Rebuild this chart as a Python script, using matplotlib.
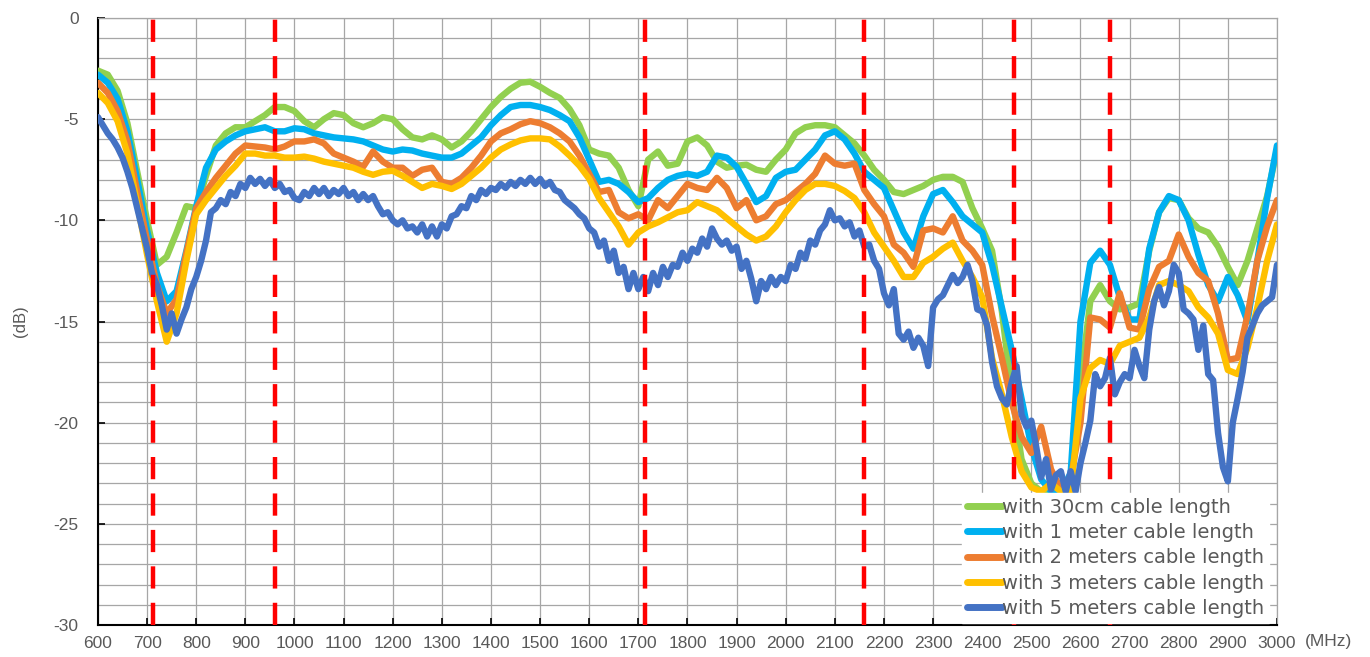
import matplotlib
matplotlib.use("Agg")
import matplotlib.pyplot as plt
import numpy as np
from matplotlib.ticker import MultipleLocator

# frequency grids (MHz)
freq_20 = list(range(600, 3001, 20))
freq_10 = list(range(600, 3001, 10))

# band edges marked with red dashed lines (MHz)
band_edges = [712, 960, 1714, 2160, 2465, 2660]

labels = [
    "with 30cm cable length",
    "with 1 meter cable length",
    "with 2 meters cable length",
    "with 3 meters cable length",
    "with 5 meters cable length",
]
colors = ["#92D050", "#00B0F0", "#ED7D31", "#FFC000", "#4472C4"]

cable_30cm = [
    -2.6, -2.8, -3.6, -5.2, -7.6, -10.0, -12.2, -11.8, -10.6, -9.3,
    -9.4, -7.8, -6.3, -5.7, -5.4, -5.4, -5.1, -4.8, -4.4, -4.4,
    -4.6, -5.1, -5.4, -5.0, -4.7, -4.8, -5.2, -5.4, -5.2, -4.9,
    -5.0, -5.5, -5.9, -6.0, -5.8, -6.0, -6.4, -6.1, -5.6, -5.0,
    -4.4, -3.9, -3.5, -3.2, -3.15, -3.4, -3.7, -3.95, -4.5, -5.3,
    -6.5, -6.7, -6.8, -7.4, -8.5, -9.3, -7.0, -6.6, -7.3, -7.2,
    -6.1, -5.9, -6.3, -7.1, -7.4, -7.3, -7.25, -7.5, -7.6, -7.0,
    -6.5, -5.7, -5.4, -5.3, -5.3, -5.4, -5.8, -6.2, -6.8, -7.5,
    -8.0, -8.6, -8.7, -8.5, -8.3, -8.0, -7.85, -7.85, -8.1, -9.4,
    -10.4, -11.5, -14.5, -18.5, -21.8, -23.0, -23.4, -23.4, -23.3, -23.4,
    -18.0, -14.0, -13.2, -14.0, -14.4, -14.3, -14.1, -11.5, -9.6, -8.9,
    -9.0, -9.9, -10.4, -10.6, -11.3, -12.3, -13.2, -12.0, -10.4, -8.8,
    -6.5,
]

cable_1m = [
    -2.8, -3.2, -4.0, -5.6, -8.0, -10.5, -12.6, -14.0, -13.5, -11.5,
    -9.3, -7.4, -6.5, -6.1, -5.8, -5.6, -5.5, -5.4, -5.6, -5.6,
    -5.45, -5.5, -5.7, -5.8, -5.9, -5.95, -6.0, -6.1, -6.3, -6.5,
    -6.6, -6.5, -6.55, -6.7, -6.8, -6.9, -6.9, -6.7, -6.3, -5.9,
    -5.3, -4.8, -4.4, -4.3, -4.3, -4.4, -4.55, -4.8, -5.1, -5.9,
    -7.0, -8.1, -8.0, -8.2, -8.6, -9.1, -8.9, -8.4, -8.0, -7.8,
    -7.7, -7.8, -7.6, -6.8, -6.9, -7.35, -8.2, -9.1, -8.8, -7.9,
    -7.6, -7.5, -7.0, -6.5, -5.8, -5.6, -6.0, -6.7, -7.6, -8.0,
    -8.4, -9.5, -10.6, -11.4, -9.8, -8.7, -8.5, -9.1, -9.8, -10.2,
    -10.6, -12.2, -14.3, -16.4, -18.8, -21.2, -22.8, -23.4, -23.4, -22.5,
    -15.0, -12.1, -11.5, -12.2, -13.8, -14.9, -14.9, -11.4, -9.6, -8.8,
    -9.0, -10.0, -11.7, -13.2, -14.0, -12.8, -13.7, -15.0, -12.0, -8.9,
    -6.3,
]

cable_2m = [
    -3.2, -3.7, -4.6, -6.1, -8.6, -11.0, -13.2, -14.6, -13.9, -11.6,
    -9.4, -8.6, -7.9, -7.3, -6.7, -6.3, -6.35, -6.4, -6.5, -6.35,
    -6.1, -6.1, -6.0, -6.2, -6.7, -6.9, -7.1, -7.35, -6.6, -7.1,
    -7.4, -7.4, -7.8, -7.5, -7.4, -8.1, -8.2, -7.9, -7.4, -6.8,
    -6.1, -5.7, -5.5, -5.25, -5.1, -5.2, -5.4, -5.7, -6.1, -6.8,
    -7.7, -8.6, -8.5, -9.6, -9.9, -9.7, -10.0, -9.0, -9.4, -8.8,
    -8.2, -8.4, -8.5, -7.9, -8.4, -9.4, -9.0, -10.0, -9.8, -9.2,
    -9.0, -8.6, -8.2, -7.7, -6.8, -7.2, -7.3, -7.2, -8.5, -9.2,
    -9.8, -11.2, -11.6, -12.3, -10.5, -10.4, -10.6, -9.8, -11.0, -11.5,
    -12.2, -14.7, -16.8, -19.0, -20.7, -21.5, -20.2, -22.3, -23.3, -22.8,
    -20.0, -14.8, -14.9, -15.3, -13.6, -15.3, -15.4, -13.4, -12.3, -12.0,
    -10.7, -11.8, -12.6, -13.0, -14.6, -16.9, -16.8, -14.7, -12.0, -10.3,
    -9.0,
]

cable_3m = [
    -3.7, -4.2, -5.1, -6.7, -9.2, -11.7, -14.0, -16.0, -14.6, -12.0,
    -9.7, -9.0, -8.4, -7.8, -7.3, -6.7, -6.7, -6.8, -6.8, -6.9,
    -6.9, -6.85, -6.95, -7.1, -7.2, -7.3, -7.4, -7.6, -7.75, -7.6,
    -7.55, -7.8, -8.1, -8.4, -8.2, -8.3, -8.45, -8.2, -7.8, -7.4,
    -6.9, -6.5, -6.25, -6.05, -5.95, -5.95, -6.0, -6.35, -6.8, -7.3,
    -7.95, -8.9, -9.6, -10.3, -11.2, -10.6, -10.3, -10.1, -9.85, -9.6,
    -9.5, -9.1, -9.3, -9.5, -9.9, -10.3, -10.7, -11.0, -10.8, -10.3,
    -9.6, -9.0, -8.5, -8.2, -8.2, -8.3, -8.55, -8.9, -9.6, -10.6,
    -11.3, -12.0, -12.8, -12.8, -12.1, -11.8, -11.4, -11.1, -12.0, -12.8,
    -13.8, -16.8, -18.6, -20.7, -22.4, -23.2, -23.4, -23.0, -23.4, -23.4,
    -18.8, -17.3, -16.9, -17.1, -16.2, -16.0, -15.8, -14.8, -13.2, -13.0,
    -13.2, -13.5, -14.3, -14.8, -15.6, -17.4, -17.6, -16.3, -14.3, -12.0,
    -10.2,
]

cable_5m = [
    -4.9, -5.3, -5.7, -6.0, -6.4, -6.9, -7.6, -8.4, -9.4, -10.4,
    -11.4, -12.6, -13.2, -14.2, -15.4, -14.6, -15.6, -14.9, -14.3, -13.4,
    -12.8, -12.0, -11.0, -9.6, -9.4, -9.0, -9.2, -8.6, -8.8, -8.2,
    -8.4, -7.9, -8.2, -7.95, -8.3, -8.0, -8.4, -8.2, -8.6, -8.5,
    -8.9, -9.0, -8.6, -8.8, -8.4, -8.7, -8.4, -8.8, -8.5, -8.7,
    -8.4, -8.8, -8.6, -9.0, -8.7, -9.0, -8.8, -9.3, -9.7, -9.6,
    -10.0, -10.2, -10.0, -10.4, -10.3, -10.6, -10.2, -10.8, -10.3, -10.8,
    -10.2, -10.4, -9.8, -9.7, -9.3, -9.4, -8.8, -9.0, -8.5, -8.7,
    -8.4, -8.5, -8.2, -8.4, -8.1, -8.3, -8.0, -8.2, -7.9, -8.2,
    -7.95, -8.3, -8.1, -8.5, -8.6, -9.0, -9.2, -9.4, -9.7, -9.9,
    -10.4, -10.6, -11.3, -11.0, -12.0, -11.5, -12.6, -12.3, -13.4, -12.6,
    -13.4, -12.8, -13.5, -12.6, -13.2, -12.3, -12.8, -12.2, -12.3, -11.6,
    -12.0, -11.4, -11.6, -10.9, -11.3, -10.4, -10.9, -11.2, -11.0, -11.5,
    -11.3, -12.4, -12.0, -12.9, -14.0, -13.0, -13.4, -12.8, -13.2, -12.8,
    -13.0, -12.2, -12.4, -11.6, -11.9, -11.0, -11.2, -10.5, -10.2, -9.5,
    -10.0, -9.9, -10.3, -10.1, -10.8, -10.5, -11.3, -11.2, -12.0, -12.4,
    -13.6, -14.2, -13.4, -15.6, -15.9, -15.5, -16.3, -15.8, -16.2, -17.2,
    -14.3, -13.9, -13.7, -13.2, -12.7, -13.1, -12.8, -12.2, -13.0, -14.4,
    -14.5, -15.2, -17.0, -18.2, -18.8, -19.1, -18.0, -17.2, -19.6, -20.2,
    -19.9, -21.2, -22.7, -21.8, -23.3, -22.6, -22.4, -23.4, -22.4, -23.4,
    -22.0, -21.0, -19.9, -17.6, -18.2, -17.8, -16.8, -18.6, -18.0, -17.6,
    -17.8, -16.4, -17.2, -17.8, -15.4, -14.0, -13.3, -14.2, -13.5, -12.2,
    -12.6, -14.4, -14.6, -14.9, -16.4, -15.2, -17.6, -17.9, -20.5, -22.2,
    -22.9, -20.0, -18.8, -17.5, -15.8, -15.2, -14.6, -14.2, -14.0, -13.8,
    -12.2,
]

series = [
    (freq_20, cable_30cm),
    (freq_20, cable_1m),
    (freq_20, cable_2m),
    (freq_20, cable_3m),
    (freq_10, cable_5m),
]

text_color = "#595959"
grid_color = "#A6A6A6"

fig = plt.figure(figsize=(13.7, 6.57), dpi=100)
ax = fig.add_axes([0.0715, 0.0487, 0.8606, 0.9239])

for (x, y), label, color in zip(series, labels, colors):
    ax.plot(x, y, color=color, lw=4.6, label=label, solid_capstyle="round",
            solid_joinstyle="round", zorder=3)

for edge in band_edges:
    ax.axvline(edge, color="#FF0000", lw=3.2, ls=(0, (5, 3.2)), zorder=4)

ax.set_xlim(600, 3000)
ax.set_ylim(-30, 0)
ax.xaxis.set_major_locator(MultipleLocator(100))
ax.yaxis.set_minor_locator(MultipleLocator(1))
ax.grid(True, which="major", color=grid_color, lw=0.9, zorder=0)
ax.grid(True, which="minor", axis="y", color=grid_color, lw=0.9, zorder=0)
ax.set_axisbelow(True)

ax.tick_params(axis="both", which="major", direction="in", length=5, width=1.2,
               colors="black", labelcolor=text_color, labelsize=12.5)
ax.tick_params(axis="y", which="minor", length=0)
ax.tick_params(axis="x", pad=8)
ax.tick_params(axis="y", pad=14)
y_ticks = list(range(-30, 1, 5))
ax.set_yticks(y_ticks)
ax.set_yticklabels([str(v) for v in y_ticks])
for lbl in ax.get_xticklabels() + ax.get_yticklabels():
    lbl.set_fontfamily("Liberation Sans")

for side in ["left", "bottom"]:
    ax.spines[side].set_color("black")
    ax.spines[side].set_linewidth(1.5)
for side in ["top", "right"]:
    ax.spines[side].set_color(grid_color)
    ax.spines[side].set_linewidth(0.9)

ax.set_ylabel("(dB)", color=text_color, fontsize=12, family="Liberation Sans",
              labelpad=18)
ax.text(1.024, -0.014, "(MHz)", transform=ax.transAxes, ha="left", va="top",
        color=text_color, fontsize=12.5, family="Liberation Sans")

leg = ax.legend(loc="lower right", bbox_to_anchor=(0.995, 0.0), frameon=True,
                fancybox=False, edgecolor="white", facecolor="white", framealpha=1,
                prop={"family": "DejaVu Sans", "size": 14}, handlelength=1.8,
                handletextpad=0.0, labelspacing=0.33, borderpad=0.25,
                borderaxespad=0.1)
for text in leg.get_texts():
    text.set_color(text_color)
for line in leg.get_lines():
    line.set_linewidth(5)
leg.set_zorder(5)

fig.savefig("out.png", dpi=100)
